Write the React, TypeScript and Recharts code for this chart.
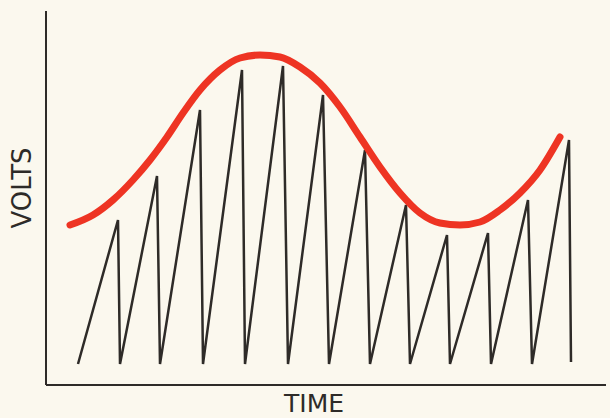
import { LineChart, Line, XAxis, YAxis, Label } from "recharts"

// time in arbitrary units, volts in arbitrary units
const sawTime = [
  3.2, 7.2, 7.4, 11.1, 11.4, 15.4, 15.7, 19.6, 19.9, 23.7, 24.2, 27.7, 28.3,
  31.9, 32.4, 36.0, 36.4, 40.1, 40.4, 44.2, 44.5, 48.2, 48.6, 52.3, 52.5,
]
const sawVolts = [
  2.1, 16.5, 2.1, 20.9, 2.1, 27.5, 2.1, 31.5, 2.1, 31.9, 2.1, 29.0, 2.1,
  23.5, 2.1, 18.0, 2.1, 15.0, 2.1, 15.2, 2.1, 18.5, 2.1, 24.5, 2.3,
]

const envTime = [
  2.4, 4.7, 6.7, 8.7, 10.4, 12.1, 13.7, 15.4, 17.4, 19.4, 21.4, 23.4, 25.4,
  27.4, 29.4, 31.4, 33.4, 35.4, 37.4, 39.4, 41.4, 43.4, 45.4, 47.4, 49.4,
  51.4,
]
const envVolts = [
  16.0, 17.0, 18.5, 20.5, 22.5, 24.8, 27.2, 29.5, 31.5, 32.7, 33.0, 32.8,
  31.8, 30.2, 27.8, 24.8, 21.8, 19.2, 17.2, 16.2, 16.0, 16.3, 17.5, 19.2,
  21.5, 24.8,
]

const sawData = sawTime.map((t, i) => ({ t, v: sawVolts[i] }))
const envData = envTime.map((t, i) => ({ t, v: envVolts[i] }))

const ink = "#2e2b28"

export default function App() {
  return (
    <div
      style={{
        position: "fixed",
        left: 0,
        top: 0,
        width: 610,
        height: 418,
        background: "#fbf8ee",
      }}
    >
      <LineChart
        width={610}
        height={418}
        margin={{ top: 11, right: 4, left: 0, bottom: 0 }}
      >
        <XAxis
          type="number"
          dataKey="t"
          domain={[0, 56]}
          height={33}
          tick={false}
          tickLine={false}
          axisLine={{ stroke: ink, strokeWidth: 2 }}
        >
          <Label
            content={({ viewBox }: any) => (
              <text
                x={viewBox.x + viewBox.width / 2 - 12}
                y={viewBox.y + 27}
                textAnchor="middle"
                fontFamily="DejaVu Sans"
                fontSize={25}
                fill={ink}
              >
                TIME
              </text>
            )}
          />
        </XAxis>
        <YAxis
          type="number"
          dataKey="v"
          domain={[0, 37.4]}
          width={46}
          tick={false}
          tickLine={false}
          axisLine={{ stroke: ink, strokeWidth: 2 }}
        >
          <Label
            content={({ viewBox }: any) => (
              <text
                x={0}
                y={0}
                transform={`translate(${viewBox.x + 31}, ${viewBox.y + 177}) rotate(-90)`}
                textAnchor="middle"
                fontFamily="DejaVu Sans"
                fontSize={26}
                fill={ink}
              >
                VOLTS
              </text>
            )}
          />
        </YAxis>
        <Line
          data={sawData}
          dataKey="v"
          type="linear"
          stroke={ink}
          strokeWidth={2.5}
          dot={false}
          isAnimationActive={false}
        />
        <Line
          data={envData}
          dataKey="v"
          type="monotone"
          stroke="#ee3423"
          strokeWidth={7}
          strokeLinecap="round"
          dot={false}
          isAnimationActive={false}
        />
      </LineChart>
    </div>
  )
}
